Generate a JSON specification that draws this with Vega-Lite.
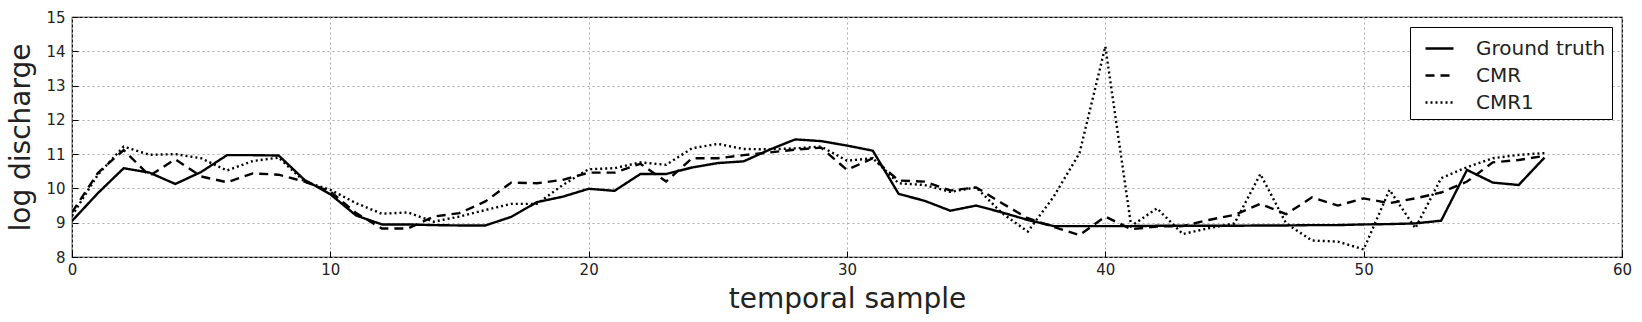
{
  "$schema": "https://vega.github.io/schema/vega-lite/v6.json",
  "autosize": "none",
  "width": 1550,
  "height": 240,
  "padding": {"left": 72, "top": 17, "right": 20, "bottom": 65},
  "background": "white",
  "config": {
    "font": "DejaVu Sans",
    "view": {"stroke": "black", "strokeWidth": 1.2},
    "axis": {
      "labelFont": "DejaVu Sans",
      "titleFont": "DejaVu Sans",
      "labelColor": "#222",
      "titleColor": "#222",
      "labelFontSize": 15,
      "titleFontSize": 28,
      "titleFontWeight": "normal",
      "labelFlush": false,
      "domain": false,
      "tickColor": "black",
      "tickSize": -6,
      "grid": true,
      "gridColor": "#aaaaaa",
      "gridDash": [2, 3],
      "gridWidth": 1
    }
  },
  "data": {
    "values": [
      {"t":0,"v":9.05,"s":"Ground truth"},{"t":1,"v":9.86,"s":"Ground truth"},{"t":2,"v":10.59,"s":"Ground truth"},{"t":3,"v":10.46,"s":"Ground truth"},{"t":4,"v":10.13,"s":"Ground truth"},{"t":5,"v":10.48,"s":"Ground truth"},{"t":6,"v":10.97,"s":"Ground truth"},{"t":7,"v":10.97,"s":"Ground truth"},{"t":8,"v":10.96,"s":"Ground truth"},{"t":9,"v":10.25,"s":"Ground truth"},{"t":10,"v":9.83,"s":"Ground truth"},{"t":11,"v":9.21,"s":"Ground truth"},{"t":12,"v":8.95,"s":"Ground truth"},{"t":13,"v":8.95,"s":"Ground truth"},{"t":14,"v":8.93,"s":"Ground truth"},{"t":15,"v":8.92,"s":"Ground truth"},{"t":16,"v":8.92,"s":"Ground truth"},{"t":17,"v":9.17,"s":"Ground truth"},{"t":18,"v":9.6,"s":"Ground truth"},{"t":19,"v":9.76,"s":"Ground truth"},{"t":20,"v":9.99,"s":"Ground truth"},{"t":21,"v":9.93,"s":"Ground truth"},{"t":22,"v":10.42,"s":"Ground truth"},{"t":23,"v":10.42,"s":"Ground truth"},{"t":24,"v":10.61,"s":"Ground truth"},{"t":25,"v":10.74,"s":"Ground truth"},{"t":26,"v":10.79,"s":"Ground truth"},{"t":27,"v":11.13,"s":"Ground truth"},{"t":28,"v":11.43,"s":"Ground truth"},{"t":29,"v":11.38,"s":"Ground truth"},{"t":30,"v":11.25,"s":"Ground truth"},{"t":31,"v":11.1,"s":"Ground truth"},{"t":32,"v":9.84,"s":"Ground truth"},{"t":33,"v":9.64,"s":"Ground truth"},{"t":34,"v":9.35,"s":"Ground truth"},{"t":35,"v":9.5,"s":"Ground truth"},{"t":36,"v":9.3,"s":"Ground truth"},{"t":37,"v":9.08,"s":"Ground truth"},{"t":38,"v":8.9,"s":"Ground truth"},{"t":39,"v":8.9,"s":"Ground truth"},{"t":40,"v":8.9,"s":"Ground truth"},{"t":41,"v":8.9,"s":"Ground truth"},{"t":42,"v":8.91,"s":"Ground truth"},{"t":43,"v":8.91,"s":"Ground truth"},{"t":44,"v":8.91,"s":"Ground truth"},{"t":45,"v":8.91,"s":"Ground truth"},{"t":46,"v":8.92,"s":"Ground truth"},{"t":47,"v":8.92,"s":"Ground truth"},{"t":48,"v":8.93,"s":"Ground truth"},{"t":49,"v":8.93,"s":"Ground truth"},{"t":50,"v":8.95,"s":"Ground truth"},{"t":51,"v":8.96,"s":"Ground truth"},{"t":52,"v":8.98,"s":"Ground truth"},{"t":53,"v":9.06,"s":"Ground truth"},{"t":54,"v":10.54,"s":"Ground truth"},{"t":55,"v":10.17,"s":"Ground truth"},{"t":56,"v":10.1,"s":"Ground truth"},{"t":57,"v":10.9,"s":"Ground truth"},

      {"t":0,"v":9.3,"s":"CMR"},{"t":1,"v":10.45,"s":"CMR"},{"t":2,"v":11.12,"s":"CMR"},{"t":3,"v":10.37,"s":"CMR"},{"t":4,"v":10.85,"s":"CMR"},{"t":5,"v":10.35,"s":"CMR"},{"t":6,"v":10.18,"s":"CMR"},{"t":7,"v":10.44,"s":"CMR"},{"t":8,"v":10.4,"s":"CMR"},{"t":9,"v":10.2,"s":"CMR"},{"t":10,"v":9.91,"s":"CMR"},{"t":11,"v":9.28,"s":"CMR"},{"t":12,"v":8.83,"s":"CMR"},{"t":13,"v":8.83,"s":"CMR"},{"t":14,"v":9.18,"s":"CMR"},{"t":15,"v":9.28,"s":"CMR"},{"t":16,"v":9.62,"s":"CMR"},{"t":17,"v":10.17,"s":"CMR"},{"t":18,"v":10.15,"s":"CMR"},{"t":19,"v":10.25,"s":"CMR"},{"t":20,"v":10.46,"s":"CMR"},{"t":21,"v":10.46,"s":"CMR"},{"t":22,"v":10.72,"s":"CMR"},{"t":23,"v":10.2,"s":"CMR"},{"t":24,"v":10.88,"s":"CMR"},{"t":25,"v":10.88,"s":"CMR"},{"t":26,"v":10.97,"s":"CMR"},{"t":27,"v":11.05,"s":"CMR"},{"t":28,"v":11.13,"s":"CMR"},{"t":29,"v":11.19,"s":"CMR"},{"t":30,"v":10.54,"s":"CMR"},{"t":31,"v":10.88,"s":"CMR"},{"t":32,"v":10.23,"s":"CMR"},{"t":33,"v":10.2,"s":"CMR"},{"t":34,"v":9.94,"s":"CMR"},{"t":35,"v":10.03,"s":"CMR"},{"t":36,"v":9.57,"s":"CMR"},{"t":37,"v":9.13,"s":"CMR"},{"t":38,"v":8.88,"s":"CMR"},{"t":39,"v":8.64,"s":"CMR"},{"t":40,"v":9.18,"s":"CMR"},{"t":41,"v":8.81,"s":"CMR"},{"t":42,"v":8.89,"s":"CMR"},{"t":43,"v":8.9,"s":"CMR"},{"t":44,"v":9.08,"s":"CMR"},{"t":45,"v":9.23,"s":"CMR"},{"t":46,"v":9.55,"s":"CMR"},{"t":47,"v":9.25,"s":"CMR"},{"t":48,"v":9.74,"s":"CMR"},{"t":49,"v":9.5,"s":"CMR"},{"t":50,"v":9.71,"s":"CMR"},{"t":51,"v":9.57,"s":"CMR"},{"t":52,"v":9.71,"s":"CMR"},{"t":53,"v":9.88,"s":"CMR"},{"t":54,"v":10.2,"s":"CMR"},{"t":55,"v":10.76,"s":"CMR"},{"t":56,"v":10.83,"s":"CMR"},{"t":57,"v":10.95,"s":"CMR"},

      {"t":0,"v":9.2,"s":"CMR1"},{"t":1,"v":10.4,"s":"CMR1"},{"t":2,"v":11.22,"s":"CMR1"},{"t":3,"v":10.98,"s":"CMR1"},{"t":4,"v":11.0,"s":"CMR1"},{"t":5,"v":10.88,"s":"CMR1"},{"t":6,"v":10.52,"s":"CMR1"},{"t":7,"v":10.8,"s":"CMR1"},{"t":8,"v":10.9,"s":"CMR1"},{"t":9,"v":10.2,"s":"CMR1"},{"t":10,"v":9.96,"s":"CMR1"},{"t":11,"v":9.57,"s":"CMR1"},{"t":12,"v":9.26,"s":"CMR1"},{"t":13,"v":9.3,"s":"CMR1"},{"t":14,"v":9.03,"s":"CMR1"},{"t":15,"v":9.18,"s":"CMR1"},{"t":16,"v":9.37,"s":"CMR1"},{"t":17,"v":9.55,"s":"CMR1"},{"t":18,"v":9.55,"s":"CMR1"},{"t":19,"v":10.1,"s":"CMR1"},{"t":20,"v":10.56,"s":"CMR1"},{"t":21,"v":10.59,"s":"CMR1"},{"t":22,"v":10.76,"s":"CMR1"},{"t":23,"v":10.69,"s":"CMR1"},{"t":24,"v":11.17,"s":"CMR1"},{"t":25,"v":11.3,"s":"CMR1"},{"t":26,"v":11.15,"s":"CMR1"},{"t":27,"v":11.14,"s":"CMR1"},{"t":28,"v":11.17,"s":"CMR1"},{"t":29,"v":11.22,"s":"CMR1"},{"t":30,"v":10.81,"s":"CMR1"},{"t":31,"v":10.88,"s":"CMR1"},{"t":32,"v":10.15,"s":"CMR1"},{"t":33,"v":10.1,"s":"CMR1"},{"t":34,"v":9.9,"s":"CMR1"},{"t":35,"v":10.03,"s":"CMR1"},{"t":36,"v":9.28,"s":"CMR1"},{"t":37,"v":8.74,"s":"CMR1"},{"t":38,"v":9.76,"s":"CMR1"},{"t":39,"v":11.03,"s":"CMR1"},{"t":40,"v":14.14,"s":"CMR1"},{"t":41,"v":8.9,"s":"CMR1"},{"t":42,"v":9.42,"s":"CMR1"},{"t":43,"v":8.67,"s":"CMR1"},{"t":44,"v":8.84,"s":"CMR1"},{"t":45,"v":8.98,"s":"CMR1"},{"t":46,"v":10.42,"s":"CMR1"},{"t":47,"v":8.98,"s":"CMR1"},{"t":48,"v":8.48,"s":"CMR1"},{"t":49,"v":8.45,"s":"CMR1"},{"t":50,"v":8.22,"s":"CMR1"},{"t":51,"v":9.96,"s":"CMR1"},{"t":52,"v":8.84,"s":"CMR1"},{"t":53,"v":10.3,"s":"CMR1"},{"t":54,"v":10.62,"s":"CMR1"},{"t":55,"v":10.88,"s":"CMR1"},{"t":56,"v":10.98,"s":"CMR1"},{"t":57,"v":11.03,"s":"CMR1"}
    ]
  },
  "mark": {"type": "line", "strokeWidth": 2.4, "color": "black", "clip": true},
  "encoding": {
    "x": {
      "field": "t", "type": "quantitative",
      "scale": {"domain": [0, 60], "nice": false, "zero": false},
      "axis": {"values": [0, 10, 20, 30, 40, 50, 60], "format": "d", "title": "temporal sample", "labelPadding": 11, "titlePadding": 8}
    },
    "y": {
      "field": "v", "type": "quantitative",
      "scale": {"domain": [8, 15], "nice": false, "zero": false},
      "axis": {"values": [8, 9, 10, 11, 12, 13, 14, 15], "format": "d", "title": "log discharge", "labelPadding": 13, "titlePadding": 10}
    },
    "strokeDash": {
      "field": "s", "type": "nominal",
      "scale": {"domain": ["Ground truth", "CMR", "CMR1"], "range": [[1, 0], [9, 6], [2, 3]]},
      "legend": {
        "title": null,
        "orient": "none",
        "legendX": 1338,
        "legendY": 10,
        "strokeColor": "black",
        "fillColor": "white",
        "padding": 6,
        "symbolOffset": 8,
        "symbolType": "stroke",
        "symbolSize": 784,
        "symbolStrokeWidth": 2.5,
        "symbolStrokeColor": "black",
        "labelFontSize": 20,
        "labelFont": "DejaVu Sans",
        "labelColor": "#222",
        "labelOffset": 21,
        "rowPadding": 1,
        "cornerRadius": 0
      }
    }
  }
}
